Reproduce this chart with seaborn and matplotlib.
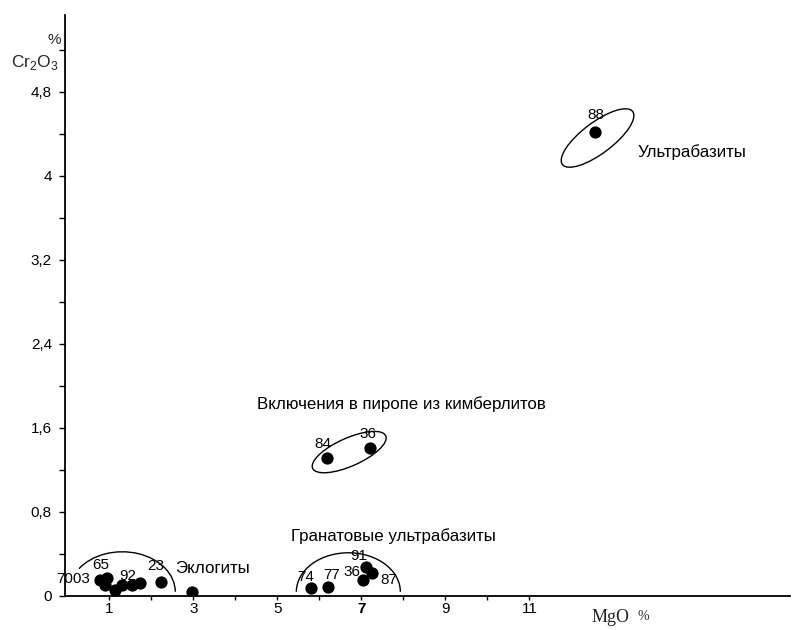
import matplotlib
matplotlib.use("Agg")
import matplotlib.pyplot as plt
import matplotlib.transforms as mtransforms
from matplotlib.patches import Ellipse, Arc
from matplotlib.ticker import FixedLocator, MultipleLocator
import seaborn as sns
import pandas as pd

# ---- data ----
mgo = [12.57, 6.19, 7.21,
       0.79, 0.95, 0.90, 1.14, 1.31, 1.55, 1.74, 2.24, 2.98,
       5.79, 6.21, 7.05, 7.12, 7.26]
cr2o3 = [4.42, 1.31, 1.41,
         0.15, 0.17, 0.10, 0.06, 0.10, 0.10, 0.12, 0.13, 0.04,
         0.08, 0.09, 0.15, 0.28, 0.22]
sample_labels = ["88", "84", "36",
                 "7003", "65", "", "", "92", "", "", "23", "",
                 "74", "77", "36", "91", "87"]
# label offsets in pixels (dx, dy)
label_offsets = [(0, 17), (-4, 14), (-2, 14),
                 (-10, 1), (-6, 13), (0, 0), (0, 0), (5, 9), (0, 0), (0, 0), (-6, 16), (0, 0),
                 (-5, 11), (3, 12), (-12, 8), (-8, 11), (17, -7)]

group_names = ["Ультрабазиты", "Включения в пиропе из кимберлитов",
               "Гранатовые ультрабазиты", "Эклогиты"]
group_x = [13.57, 4.52, 5.33, 2.57]
group_y = [4.23, 1.83, 0.57, 0.26]

ytick_vals = [0, 0.8, 1.6, 2.4, 3.2, 4.0, 4.8]
ytick_labels = ["0", "0,8", "1,6", "2,4", "3,2", "4", "4,8"]
xtick_vals = [1, 3, 5, 7, 9, 11]
xtick_labels = ["1", "3", "5", "7", "9", "11"]

df = pd.DataFrame({"MgO": mgo, "Cr2O3": cr2o3})

sns.set_style("ticks")
plt.rcParams["font.family"] = ["Liberation Sans", "DejaVu Sans"]
plt.rcParams["mathtext.fontset"] = "custom"
plt.rcParams["mathtext.rm"] = "Liberation Sans"

fig = plt.figure(figsize=(7.94, 6.30), dpi=100)
ax = fig.add_axes([0.082, 0.054, 0.913, 0.922])

sns.scatterplot(data=df, x="MgO", y="Cr2O3", ax=ax, color="black",
                s=78, edgecolor="black", linewidth=0, legend=False, zorder=3)

ax.set_xlim(-0.05, 17.2)
ax.set_ylim(0, 5.53)
ax.set_xlabel("")
ax.set_ylabel("")
for s in ["top", "right"]:
    ax.spines[s].set_visible(False)
for s in ["left", "bottom"]:
    ax.spines[s].set_linewidth(1.3)
    ax.spines[s].set_color("black")

ax.yaxis.set_major_locator(FixedLocator(ytick_vals))
ax.set_yticklabels(ytick_labels)
ax.yaxis.set_minor_locator(MultipleLocator(0.4))
ax.xaxis.set_major_locator(FixedLocator(xtick_vals))
ax.set_xticklabels(xtick_labels)
ax.xaxis.set_minor_locator(FixedLocator([2, 4, 6, 8, 10]))
ax.tick_params(axis="y", which="both", direction="out", length=4.5, width=1,
               pad=5, labelsize=11, colors="black")
ax.tick_params(axis="x", which="both", direction="out", length=3, width=1,
               pad=1.5, labelsize=11, colors="black")
for lbl in ax.get_xticklabels():
    if lbl.get_text() == "7":
        lbl.set_fontweight("bold")

# sample labels
for x, y, t, (dx, dy) in zip(mgo, cr2o3, sample_labels, label_offsets):
    if not t:
        continue
    ha = "right" if t == "7003" else "center"
    ax.annotate(t, (x, y), xytext=(dx * 0.72, dy * 0.72), textcoords="offset points",
                ha=ha, va="center", fontsize=11, color="black", zorder=4)

# group names
for t, x, y in zip(group_names, group_x, group_y):
    ax.text(x, y, t, ha="left", va="center", fontsize=12.2, color="black")

# enclosing curves (sizes in inches around data centres)
def px_trans(cx, cy):
    return fig.dpi_scale_trans + mtransforms.ScaledTranslation(cx, cy, ax.transData)

ax.add_patch(Ellipse((0, 0), 0.88, 0.31, angle=37, fill=False, lw=1, ec="black",
                     transform=px_trans(12.62, 4.36)))
ax.add_patch(Ellipse((0, 0), 0.80, 0.28, angle=24, fill=False, lw=1, ec="black",
                     transform=px_trans(6.71, 1.37)))
ax.add_patch(Arc((0, 0), 1.06, 0.80, angle=0, theta1=0, theta2=152, lw=1, ec="black",
                 transform=px_trans(1.31, 0.04)))
ax.add_patch(Arc((0, 0), 1.04, 0.78, angle=0, theta1=0, theta2=180, lw=1, ec="black",
                 transform=px_trans(6.69, 0.04)))

# axis titles
fig.text(48 / 794, 1 - 40 / 630, "%", ha="left", va="center", fontsize=11)
fig.text(11 / 794, 1 - 62 / 630, "Cr$_2$O$_3$", ha="left", va="center", fontsize=12.5)
fig.text(592 / 794, 1 - 617 / 630, "MgO", ha="left", va="center", fontsize=13,
         family=["Liberation Serif"])
fig.text(638 / 794, 1 - 617 / 630, "%", ha="left", va="center", fontsize=10,
         family=["Liberation Serif"])

fig.savefig("out.png", dpi=100)
